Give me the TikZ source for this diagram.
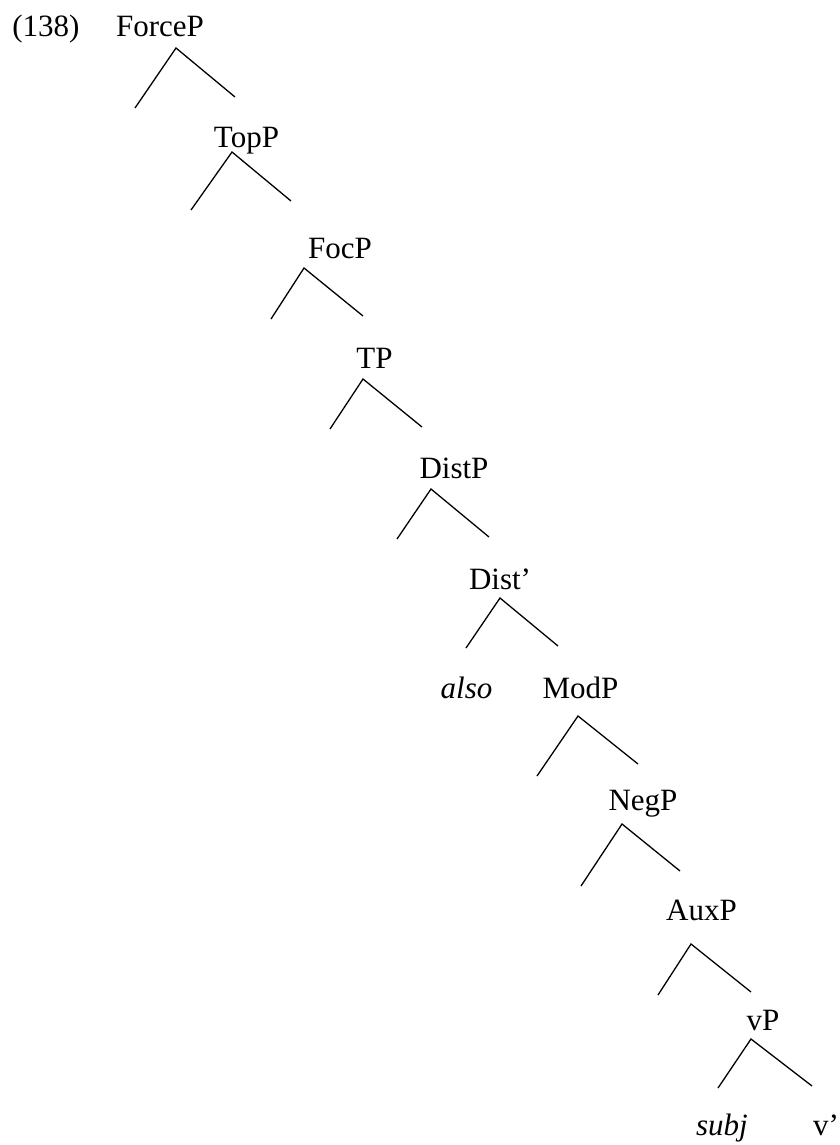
\documentclass[tikz,border=0pt]{standalone}
\usepackage{fontspec}
\setmainfont{Liberation Serif}
\begin{document}
\begin{tikzpicture}[x=1pt,y=-1pt,
  lbl/.style={anchor=base,inner sep=0pt,outer sep=0pt,font=\fontsize{31}{36}\selectfont},
  branch/.style={line width=1.3pt}]
\useasboundingbox (0,0) rectangle (840,1145);
% labels (base line positions)
\node[lbl] (ex)    at (46,37)     {(138)};
\node[lbl] (force) at (160,37)    {ForceP};
\node[lbl] (top)   at (246.5,147) {TopP};
\node[lbl] (foc)   at (340,258)   {FocP};
\node[lbl] (tp)    at (374.5,368) {TP};
\node[lbl] (dist)  at (454,478)   {DistP};
\node[lbl] (distb) at (500,589)   {Dist'};
\node[lbl] (also)  at (466.5,698) {\itshape also};
\node[lbl] (mod)   at (580.5,698) {ModP};
\node[lbl] (neg)   at (643,810)   {NegP};
\node[lbl] (aux)   at (701.5,920) {AuxP};
\node[lbl] (vp)    at (763,1030)  {vP};
\node[lbl] (subj)  at (722,1135)  {\itshape subj};
\node[lbl] (vbar)  at (826,1135)  {v'};
% branch points: apex, left end, right end
\foreach \n/\ax/\ay/\lx/\ly/\rx/\ry in {
  force/176/48/135/108/235/97,
  top/232/152/191/210/291/201,
  foc/304/268/271/319/363/316,
  tp/363/379/330/429/422/427,
  dist/431/489/397/539/489/537,
  distb/500/598/466/648/558/646,
  mod/578/716/537/776/638/764,
  neg/622/824/581/886/680/871,
  aux/691/944/658/995/751/992,
  vp/751/1039/718/1088/812/1086}{
  \coordinate (\n-a) at (\ax,\ay);
  \coordinate (\n-l) at (\lx,\ly);
  \coordinate (\n-r) at (\rx,\ry);
  \draw[branch] (\n-l) -- (\n-a) -- (\n-r);
}
\end{tikzpicture}
\end{document}
